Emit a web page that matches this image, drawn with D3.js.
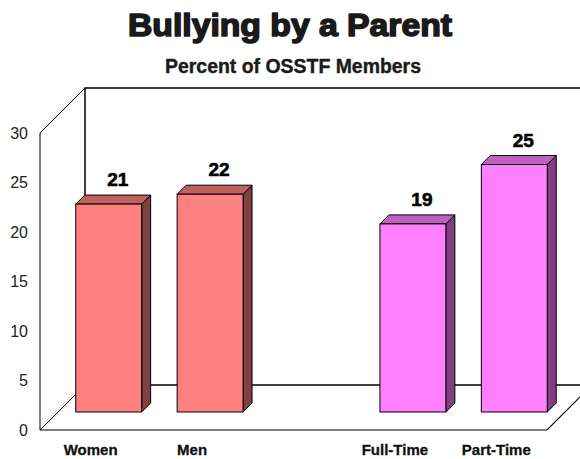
<!DOCTYPE html>
<html>
<head>
<meta charset="utf-8">
<script src="https://cdn.jsdelivr.net/npm/d3@7"></script>
<style>
  body { margin: 0; background: #fff; }
  svg { display: block; }
</style>
</head>
<body>
<div id="chart"></div>
<script>
// chart data
var slots = ["Women", "Men", "gap", "Full-Time", "Part-Time"];
var categories = ["Women", "Men", "Full-Time", "Part-Time"];
var values = [21, 22, 19, 25];
var groups = ["sex", "sex", "status", "status"];
var yTicks = [0, 5, 10, 15, 20, 25, 30];

var palette = {
	sex: { front: "#ff8080", top: "#c06060", side: "#804040" },
	status: { front: "#ff80ff", top: "#c060c0", side: "#804080" }
};

var opts = {
	width: 580,
	height: 459,
	left: 40,
	right: 547,
	depth: 45,      // wall depth (px, 45 degrees)
	barZ: 18,       // bar front distance from front plane
	barDepth: 9
};

var svg = d3.select("#chart")
	.append("svg")
	.attr("width", opts.width)
	.attr("height", opts.height);

var y = d3.scaleLinear().domain([0, 30]).range([430, 133]);
var x = d3.scaleBand().domain(slots)
	.range([opts.left, opts.right])
	.paddingInner(0.35)
	.paddingOuter(0.175);

// project a point at depth z
function px(xv, z) { return xv + z; }
function py(v, z) { return y(v) - z; }

// titles
svg.append("text")
	.attr("x", 290).attr("y", 36)
	.attr("text-anchor", "middle")
	.attr("font-family", "Liberation Sans Narrow, Liberation Sans, Arial, sans-serif")
	.attr("font-weight", "bold")
	.attr("font-size", 32)
	.attr("fill", "#1a1a1a")
	.attr("stroke", "#1a1a1a")
	.attr("stroke-width", 1.6)
	.attr("stroke-linejoin", "round")
	.attr("textLength", 324)
	.attr("lengthAdjust", "spacingAndGlyphs")
	.text("Bullying by a Parent");

svg.append("text")
	.attr("x", 293).attr("y", 72.5)
	.attr("text-anchor", "middle")
	.attr("font-family", "Liberation Sans Narrow, Liberation Sans, Arial, sans-serif")
	.attr("font-weight", "bold")
	.attr("font-size", 20)
	.attr("fill", "#1a1a1a")
	.attr("stroke", "#1a1a1a")
	.attr("stroke-width", 0.4)
	.attr("textLength", 256)
	.attr("lengthAdjust", "spacingAndGlyphs")
	.text("Percent of OSSTF Members");

// walls / floor
var D = opts.depth;
var walls = svg.append("g")
	.attr("fill", "none")
	.attr("stroke", "#000");

walls.append("path")
	.attr("stroke-width", 1.5)
	.attr("d", d3.line()([
		[px(opts.left, D), py(0, D)],
		[px(opts.left, D), py(30, D)],
		[px(opts.right, D) + 10, py(30, D)]
	]));
walls.append("path")
	.attr("stroke-width", 1.5)
	.attr("d", d3.line()([
		[px(opts.left, D), py(0, D)],
		[px(opts.right, D), py(0, D)]
	]));
walls.append("path")
	.attr("stroke-width", 1)
	.attr("d", d3.line()([
		[opts.left, y(30)],
		[px(opts.left, D), py(30, D)]
	]));
walls.append("path")
	.attr("stroke-width", 1)
	.attr("d", d3.line()([
		[px(opts.left, D), py(0, D)],
		[opts.left, y(0)],
		[opts.left, y(30)]
	]));
walls.append("path")
	.attr("stroke-width", 1.2)
	.attr("d", d3.line()([
		[opts.left, y(0)],
		[opts.right, y(0)],
		[px(opts.right, D), py(0, D)]
	]));

// y tick labels
svg.append("g").selectAll("text")
	.data(yTicks)
	.enter().append("text")
	.attr("x", 28)
	.attr("y", function(d) { return y(d); })
	.attr("dy", "0.36em")
	.attr("text-anchor", "end")
	.attr("font-family", "Liberation Sans, Arial, sans-serif")
	.attr("font-size", 16)
	.attr("fill", "#222")
	.text(function(d) { return d; });

// bars
var z0 = opts.barZ, z1 = opts.barZ + opts.barDepth;
var bars = svg.append("g").selectAll("g.bar")
	.data(categories.map(function(c, i) { return { cat: c, value: values[i], group: groups[i] }; }))
	.enter().append("g")
	.attr("class", "bar");

bars.append("path")    // side
	.attr("fill", function(d) { return palette[d.group].side; })
	.attr("stroke", "#000")
	.attr("stroke-width", 1)
	.attr("stroke-linejoin", "round")
	.attr("d", function(d) {
		var xr = x(d.cat) + x.bandwidth();
		return d3.line()([
			[px(xr, z0), py(0, z0)],
			[px(xr, z1), py(0, z1)],
			[px(xr, z1), py(d.value, z1)],
			[px(xr, z0), py(d.value, z0)]
		]) + "Z";
	});

bars.append("path")    // top
	.attr("fill", function(d) { return palette[d.group].top; })
	.attr("stroke", "#000")
	.attr("stroke-width", 1)
	.attr("stroke-linejoin", "round")
	.attr("d", function(d) {
		var xl = x(d.cat), xr = xl + x.bandwidth();
		return d3.line()([
			[px(xl, z0), py(d.value, z0)],
			[px(xl, z1), py(d.value, z1)],
			[px(xr, z1), py(d.value, z1)],
			[px(xr, z0), py(d.value, z0)]
		]) + "Z";
	});

bars.append("rect")    // front
	.attr("x", function(d) { return px(x(d.cat), z0); })
	.attr("y", function(d) { return py(d.value, z0); })
	.attr("width", x.bandwidth())
	.attr("height", function(d) { return y(0) - y(d.value); })
	.attr("fill", function(d) { return palette[d.group].front; })
	.attr("stroke", "#000")
	.attr("stroke-width", 1);

bars.append("text")
	.attr("x", function(d) { return px(x(d.cat) + x.bandwidth() / 2, z1); })
	.attr("y", function(d) { return py(d.value, z1) - 9; })
	.attr("text-anchor", "middle")
	.attr("font-family", "Liberation Sans, Arial, sans-serif")
	.attr("font-weight", "bold")
	.attr("font-size", 19)
	.attr("fill", "#000")
	.attr("stroke", "#000")
	.attr("stroke-width", 0.6)
	.text(function(d) { return d.value; });

// category labels
svg.append("g").selectAll("text")
	.data(categories)
	.enter().append("text")
	.attr("x", function(d) { return x(d) + x.bandwidth() / 2; })
	.attr("y", 455)
	.attr("text-anchor", "middle")
	.attr("font-family", "Liberation Sans, Arial, sans-serif")
	.attr("font-weight", "bold")
	.attr("font-size", 15)
	.attr("fill", "#111")
	.attr("stroke", "#111")
	.attr("stroke-width", 0.3)
	.text(function(d) { return d; });
</script>
</body>
</html>
